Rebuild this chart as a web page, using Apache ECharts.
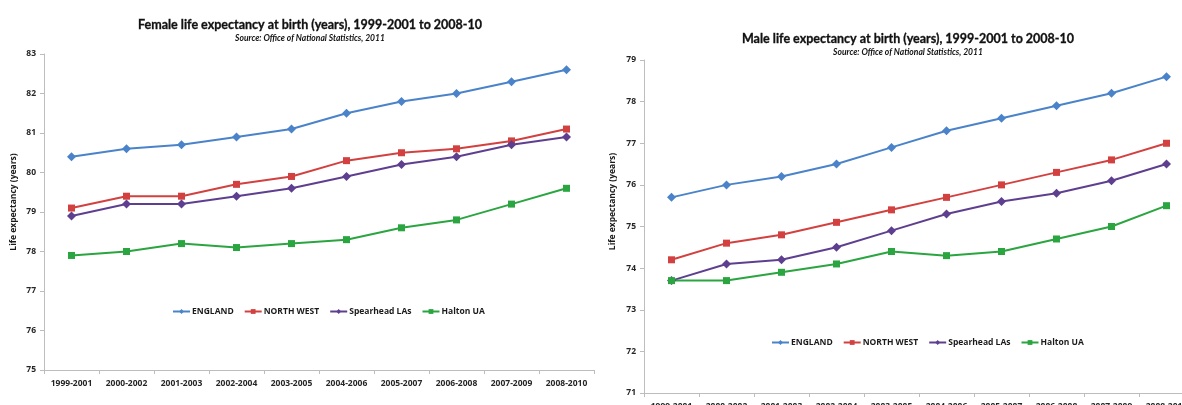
<!DOCTYPE html>
<html>
<head>
<meta charset="utf-8">
<script src="https://cdn.jsdelivr.net/npm/echarts@6/dist/echarts.min.js"></script>
<style>
  html, body { margin: 0; padding: 0; background: #ffffff; }
  #chart { width: 1182px; height: 405px; }
</style>
</head>
<body>
<div id="chart"></div>
<script>
// Three-year periods on the category axis
const periods = ['1999-2001', '2000-2002', '2001-2003', '2002-2004', '2003-2005',
                 '2004-2006', '2005-2007', '2006-2008', '2007-2009', '2008-2010'];

const seriesNames = ['ENGLAND', 'NORTH WEST', 'Spearhead LAs', 'Halton UA'];

// Female life expectancy at birth (years)
const femaleEngland   = [80.4, 80.6, 80.7, 80.9, 81.1, 81.5, 81.8, 82.0, 82.3, 82.6];
const femaleNorthWest = [79.1, 79.4, 79.4, 79.7, 79.9, 80.3, 80.5, 80.6, 80.8, 81.1];
const femaleSpearhead = [78.9, 79.2, 79.2, 79.4, 79.6, 79.9, 80.2, 80.4, 80.7, 80.9];
const femaleHalton    = [77.9, 78.0, 78.2, 78.1, 78.2, 78.3, 78.6, 78.8, 79.2, 79.6];

// Male life expectancy at birth (years)
const maleEngland   = [75.7, 76.0, 76.2, 76.5, 76.9, 77.3, 77.6, 77.9, 78.2, 78.6];
const maleNorthWest = [74.2, 74.6, 74.8, 75.1, 75.4, 75.7, 76.0, 76.3, 76.6, 77.0];
const maleSpearhead = [73.7, 74.1, 74.2, 74.5, 74.9, 75.3, 75.6, 75.8, 76.1, 76.5];
const maleHalton    = [73.7, 73.7, 73.9, 74.1, 74.4, 74.3, 74.4, 74.7, 75.0, 75.5];

const femaleTitle = 'Female life expectancy at birth (years), 1999-2001 to 2008-10';
const maleTitle = 'Male life expectancy at birth (years), 1999-2001 to 2008-10';
const sourceText = 'Source: Office of National Statistics, 2011';
const yAxisName = 'Life expectancy (years)';

const FONT = 'Lato, "Open Sans", sans-serif';
const LABEL_FONT = '"Open Sans", Lato, sans-serif';
const colors = ['#4a83c9', '#d2413f', '#5e3f8f', '#2aa540'];
const symbols = ['diamond', 'rect', 'diamond', 'rect'];
const symbolSizes = [9, 7, 9, 7];

function makeSeries(values, idx) {
  return values.map((data, i) => ({
    name: seriesNames[i],
    type: 'line',
    xAxisIndex: idx,
    yAxisIndex: idx,
    data: data,
    symbol: symbols[i],
    symbolSize: symbolSizes[i],
    showSymbol: true,
    color: colors[i],
    lineStyle: { width: 2, color: colors[i] },
    itemStyle: { color: colors[i] },
    emphasis: { disabled: true },
    animation: false
  }));
}

function makeXAxis(gridIndex, margin) {
  return {
    type: 'category',
    gridIndex: gridIndex,
    data: periods,
    boundaryGap: true,
    axisLine: { lineStyle: { color: '#bdbdbd', width: 1 } },
    axisTick: { show: true, length: 4, lineStyle: { color: '#bdbdbd' } },
    axisLabel: {
      interval: 0, fontFamily: LABEL_FONT, fontWeight: 'bold', fontSize: 8.5,
      color: '#262626', margin: margin
    },
    splitLine: { show: false }
  };
}

// nameShift lifts the rotated axis title above the middle of the axis
function makeYAxis(gridIndex, min, max, nameGap, nameShift) {
  return {
    type: 'value',
    gridIndex: gridIndex,
    min: min,
    max: max,
    interval: 1,
    name: yAxisName,
    nameLocation: 'middle',
    nameRotate: 90,
    nameGap: nameGap,
    nameTextStyle: {
      fontFamily: LABEL_FONT, fontWeight: 'bold', fontSize: 8.5, color: '#1a1a1a',
      padding: [0, 0, 0, nameShift]
    },
    axisLine: { show: true, lineStyle: { color: '#bdbdbd', width: 1 } },
    axisTick: { show: true, length: 4, lineStyle: { color: '#bdbdbd' } },
    axisLabel: { fontFamily: LABEL_FONT, fontWeight: 'bold', fontSize: 8.5, color: '#262626', margin: 8 },
    splitLine: { show: false }
  };
}

function makeLegend(left, top) {
  return {
    data: seriesNames,
    left: left,
    top: top,
    itemWidth: 17,
    itemHeight: 6,
    itemGap: 10,
    textStyle: {
      fontFamily: LABEL_FONT, fontWeight: 'bold', fontSize: 8.5, color: '#1a1a1a',
      padding: [0, 0, 0, -3]
    },
    selectedMode: false
  };
}

function makeTitle(text, centerX, top) {
  return {
    text: text,
    subtext: sourceText,
    left: centerX,
    textAlign: 'center',
    top: top,
    itemGap: 2,
    textStyle: {
      fontFamily: FONT, fontWeight: 'bold', fontSize: 12.5, color: '#111111',
      textBorderColor: '#111111', textBorderWidth: 0.3
    },
    subtextStyle: {
      fontFamily: FONT, fontWeight: 'bold', fontStyle: 'italic', fontSize: 8.5, color: '#111111'
    }
  };
}

const chart = echarts.init(document.getElementById('chart'), null, { renderer: 'canvas' });

chart.setOption({
  backgroundColor: '#ffffff',
  animation: false,
  title: [makeTitle(femaleTitle, 305, 13), makeTitle(maleTitle, 903, 27)],
  legend: [makeLegend(167, 302), makeLegend(766, 333)],
  grid: [
    { left: 44, top: 54, width: 550, height: 316, containLabel: false, outerBoundsMode: 'none' },
    { left: 644, top: 60, width: 550, height: 333, containLabel: false, outerBoundsMode: 'none' }
  ],
  xAxis: [makeXAxis(0, 9), makeXAxis(1, 9)],
  yAxis: [makeYAxis(0, 75, 83, 26, 20), makeYAxis(1, 71, 79, 27, 50)],
  series: [
    ...makeSeries([femaleEngland, femaleNorthWest, femaleSpearhead, femaleHalton], 0),
    ...makeSeries([maleEngland, maleNorthWest, maleSpearhead, maleHalton], 1)
  ]
});
</script>
</body>
</html>
